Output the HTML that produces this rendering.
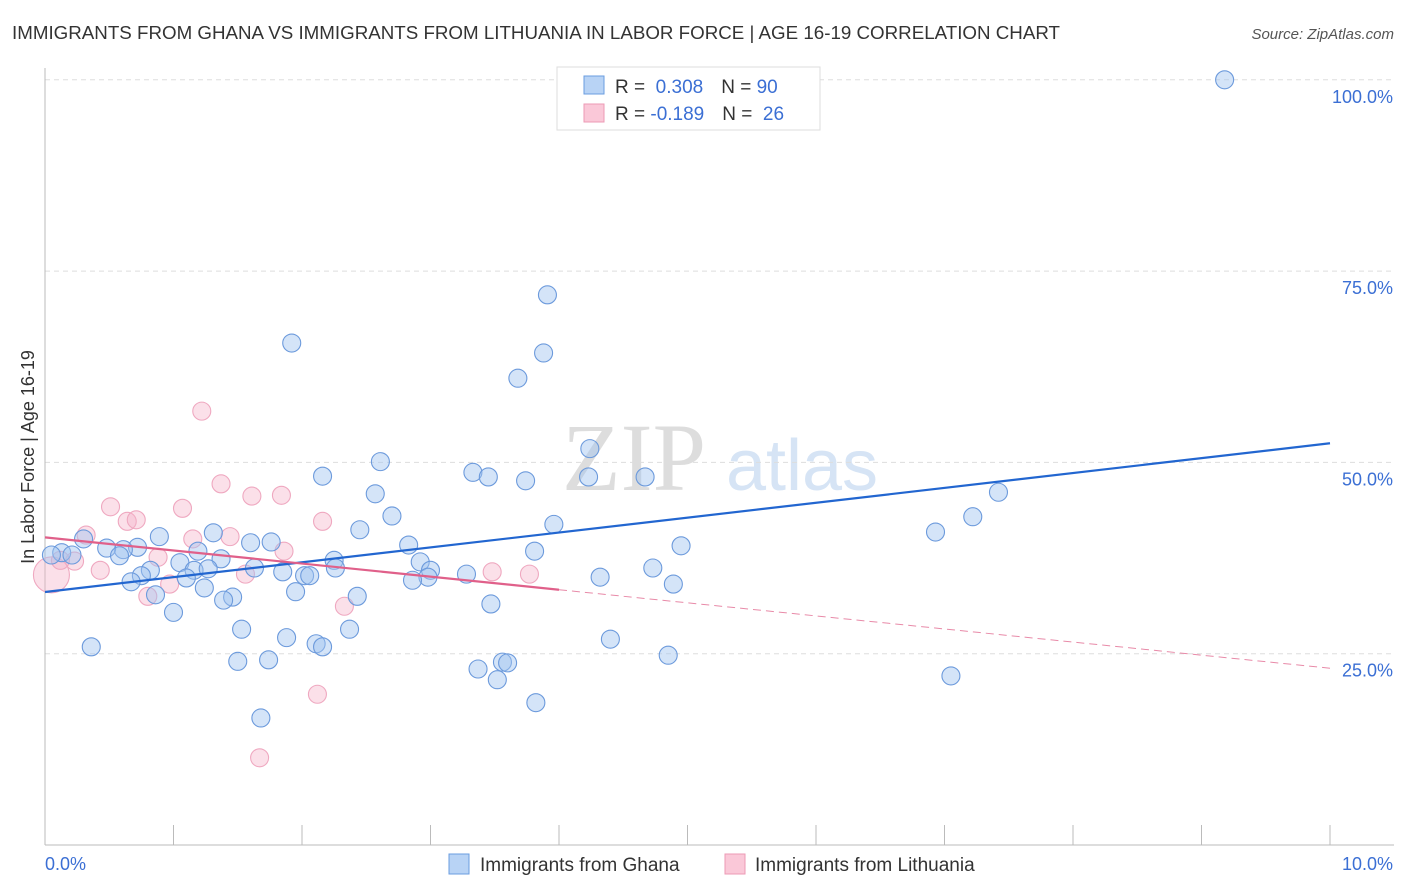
<!DOCTYPE html>
<html><head><meta charset="utf-8"><style>
body{margin:0;background:#fff;font-family:"Liberation Sans",sans-serif;}
svg{display:block}
</style></head><body>
<svg id="chart" width="1406" height="892">
<text x="12" y="39" font-size="18" fill="#333" textLength="1048" lengthAdjust="spacingAndGlyphs">IMMIGRANTS FROM GHANA VS IMMIGRANTS FROM LITHUANIA IN LABOR FORCE | AGE 16-19 CORRELATION CHART</text>
<text x="1394" y="39" font-size="15" fill="#555" font-style="italic" text-anchor="end">Source: ZipAtlas.com</text>
<text x="634" y="490" font-size="96" fill="#ddd" font-family="Liberation Serif" text-anchor="middle">ZIP</text>
<text x="802" y="490" font-size="72" fill="#d6e4f5" text-anchor="middle">atlas</text>
<g id="grid"></g><g id="axes"></g><g id="pts"></g><g id="trend"></g>
<text transform="translate(34,457) rotate(-90)" font-size="18" fill="#333" text-anchor="middle">In Labor Force | Age 16-19</text>
<g>
<rect x="557" y="67" width="263" height="63" fill="#fff" stroke="#ddd"/>
<rect x="584" y="76" width="20" height="18" fill="#b8d3f5" stroke="#6a9de0"/>
<rect x="584" y="104" width="20" height="18" fill="#fac8d8" stroke="#ec9ab5"/>
<text x="615" y="93" font-size="19" fill="#333">R = <tspan fill="#3b6fd4">&#160;0.308</tspan><tspan dx="18">N = </tspan><tspan fill="#3b6fd4">90</tspan></text>
<text x="615" y="120" font-size="19" fill="#333">R = <tspan fill="#3b6fd4">-0.189</tspan><tspan dx="18">N = </tspan><tspan fill="#3b6fd4">&#160;26</tspan></text>
</g>
<g>
<rect x="449" y="854" width="20" height="20" fill="#b8d3f5" stroke="#6a9de0"/>
<text x="480" y="871" font-size="19" fill="#333">Immigrants from Ghana</text>
<rect x="725" y="854" width="20" height="20" fill="#fac8d8" stroke="#ec9ab5"/>
<text x="755" y="871" font-size="19" fill="#333">Immigrants from Lithuania</text>
</g>
</svg>
<script>
const ghanaX=[9.18,3.91,1.92,3.88,3.68,4.24,2.61,3.33,3.45,2.16,3.74,4.23,4.67,2.57,7.42,2.70,3.96,2.45,7.22,6.93,1.31,0.89,0.30,1.60,1.76,2.83,4.95,0.72,1.19,0.61,0.48,0.58,3.81,0.13,0.05,0.21,2.25,1.37,1.05,2.92,4.73,4.32,0.82,1.16,1.27,1.63,1.85,2.26,3.00,2.98,3.28,0.75,0.67,1.10,2.02,2.06,2.86,4.89,1.95,0.86,1.24,1.46,1.39,2.43,3.47,1.00,1.53,2.37,1.88,2.11,2.16,4.40,0.36,4.85,1.50,1.74,3.37,3.56,3.60,3.52,7.05,1.68,3.82];
const ghanaY=[100.0,71.9,65.6,64.3,61.0,51.8,50.1,48.7,48.1,48.2,47.6,48.1,48.1,45.9,46.1,43.0,41.9,41.2,42.9,40.9,40.8,40.3,40.0,39.5,39.6,39.2,39.1,38.9,38.4,38.6,38.8,37.8,38.4,38.2,37.9,37.9,37.2,37.4,36.9,37.0,36.2,35.0,35.9,35.9,36.1,36.2,35.7,36.2,35.9,35.0,35.4,35.2,34.4,34.9,35.2,35.2,34.6,34.1,33.1,32.7,33.6,32.4,32.0,32.5,31.5,30.4,28.2,28.2,27.1,26.3,25.9,26.9,25.9,24.8,24.0,24.2,23.0,23.9,23.8,21.6,22.1,16.6,18.6];
const lithX=[1.22,0.51,1.37,1.61,1.84,1.07,0.64,0.71,2.16,0.32,1.15,1.44,1.86,0.88,0.23,0.43,1.56,0.97,0.80,3.48,3.77,2.33,2.12,1.67,0.05,0.12];
const lithY=[56.7,44.2,47.2,45.6,45.7,44.0,42.3,42.5,42.3,40.5,40.0,40.3,38.4,37.6,37.1,35.9,35.4,34.1,32.5,35.7,35.4,31.2,19.7,11.4,35.3,37.2];
const yTicks=[25,50,75,100];
const yTickLabels=["25.0%","50.0%","75.0%","100.0%"];
const xTicks=[0,1,2,3,4,5,6,7,8,9,10];
const ghanaTrend=[33.06,52.5];
const lithTrend=[40.2,23.1];
const lithSolidEnd=4.0;

const NS="http://www.w3.org/2000/svg";
const sx=v=>45+v*128.5, sy=v=>845-v*7.652;
function mk(tag,attrs,parent){const e=document.createElementNS(NS,tag);for(const k in attrs)e.setAttribute(k,attrs[k]);document.getElementById(parent).appendChild(e);return e;}
yTicks.forEach((t,i)=>{
 const l=mk('line',{x1:45,x2:1394,y1:sy(t),y2:sy(t),stroke:'#ddd','stroke-dasharray':'5,4'},'grid');
 
 
 const tx=mk('text',{x:1393,y:sy(t)+23,'font-size':18,fill:'#3b6fd4','text-anchor':'end'},'grid');
 tx.textContent=yTickLabels[i];
 
 
});
let a=mk('line',{x1:45,x2:45,y1:68,y2:845,stroke:'#bbb'},'axes');


a=mk('line',{x1:45,x2:1394,y1:845,y2:845,stroke:'#bbb'},'axes');


xTicks.forEach(t=>{const l=mk('line',{x1:sx(t),x2:sx(t),y1:825,y2:845,stroke:'#bbb'},'axes');
 
 });
let t0=mk('text',{x:45,y:870,'font-size':18,fill:'#3b6fd4'},'axes');t0.textContent='0.0%';


let t1=mk('text',{x:1393,y:870,'font-size':18,fill:'#3b6fd4','text-anchor':'end'},'axes');t1.textContent='10.0%';


lithX.forEach((x,i)=>{const c=mk('circle',{cx:sx(x),cy:sy(lithY[i]),r:i==24?18:9,fill:'rgba(246,178,200,0.4)',stroke:'#efa8c0','stroke-width':1.1},'pts');
 
 });
ghanaX.forEach((x,i)=>{const c=mk('circle',{cx:sx(x),cy:sy(ghanaY[i]),r:9,fill:'rgba(160,196,240,0.45)',stroke:'#6c9adc','stroke-width':1.1},'pts');
 
 });
const lv=(tr,x)=>tr[0]+(tr[1]-tr[0])*x/10;
let g=mk('line',{x1:sx(0),y1:sy(lv(ghanaTrend,0)),x2:sx(10),y2:sy(lv(ghanaTrend,10)),stroke:'#2266d0','stroke-width':2.2},'trend');


let p=mk('line',{x1:sx(0),y1:sy(lv(lithTrend,0)),x2:sx(lithSolidEnd),y2:sy(lv(lithTrend,lithSolidEnd)),stroke:'#e0608a','stroke-width':2.2},'trend');


let pd=mk('line',{x1:sx(lithSolidEnd),y1:sy(lv(lithTrend,lithSolidEnd)),x2:sx(10),y2:sy(lv(lithTrend,10)),stroke:'#e88aa8','stroke-width':1,'stroke-dasharray':'8,5'},'trend');


</script>
</body></html>
